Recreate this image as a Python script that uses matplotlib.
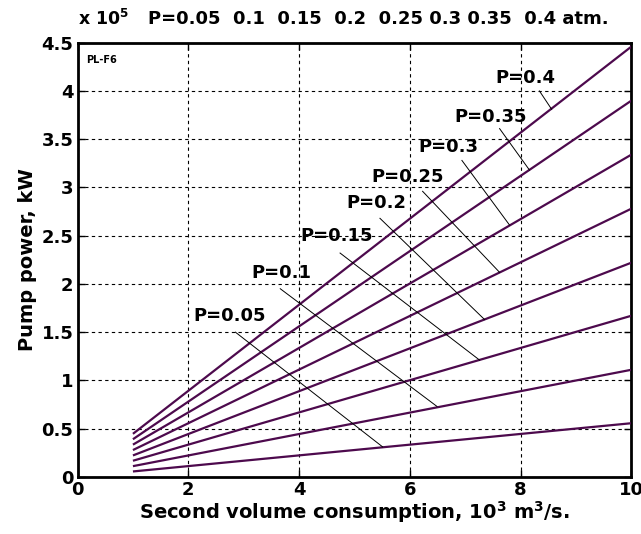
import numpy as np
import matplotlib
matplotlib.use("Agg")
from matplotlib import pyplot as plt

# pressures (atm) and pump power (x 1e5 kW) at Q = 1 and Q = 10 (10^3 m3/s)
pressures = ["0.05", "0.1", "0.15", "0.2", "0.25", "0.3", "0.35", "0.4"]
q_ends = [1, 10]
power_q1 = [0.056, 0.111, 0.167, 0.222, 0.278, 0.334, 0.390, 0.446]
power_q10 = [0.556, 1.11, 1.67, 2.22, 2.78, 3.34, 3.90, 4.46]

# label text anchor and leader line (start -> end on curve), data coords
label_xy = [(2.1, 1.67), (3.13, 2.11), (4.02, 2.50), (4.85, 2.84),
            (5.3, 3.11), (6.15, 3.42), (6.8, 3.73), (7.55, 4.13)]
leader_from = [(2.85, 1.50), (3.66, 1.95), (4.74, 2.32), (5.46, 2.68),
               (6.23, 2.96), (6.94, 3.28), (7.62, 3.61), (8.34, 4.00)]
leader_to = [(5.51, 0.31), (6.49, 0.73), (7.26, 1.21), (7.35, 1.63),
             (7.62, 2.12), (7.80, 2.61), (8.16, 3.18), (8.56, 3.81)]

x_ticks = [0, 2, 4, 6, 8, 10]
y_ticks = [0, 0.5, 1, 1.5, 2, 2.5, 3, 3.5, 4, 4.5]
y_tick_labels = ["0", "0.5", "1", "1.5", "2", "2.5", "3", "3.5", "4", "4.5"]

plt.rcParams['font.family'] = ['DejaVu Sans']
plt.rcParams['font.weight'] = 'bold'

fig = plt.figure(figsize=(6.41, 5.34), dpi=100)
ax = fig.add_axes([0.121, 0.107, 0.864, 0.813])

line_color = '#4d0a4d'
for i in range(len(pressures)):
    ax.plot(q_ends, [power_q1[i], power_q10[i]], color=line_color, lw=1.6,
            solid_capstyle='butt', zorder=3)
    ax.plot([leader_from[i][0], leader_to[i][0]], [leader_from[i][1], leader_to[i][1]],
            color='black', lw=0.7, zorder=4)
    ax.text(label_xy[i][0], label_xy[i][1], "P=" + pressures[i], fontsize=13,
            fontweight='bold', ha='left', va='center', zorder=5)

ax.set_xlim(0, 10)
ax.set_ylim(0, 4.5)
ax.set_xticks(x_ticks)
ax.set_xticklabels([str(t) for t in x_ticks])
ax.set_yticks(y_ticks)
ax.set_yticklabels(y_tick_labels)
ax.grid(True, color='black', linestyle=(0, (3, 3)), linewidth=0.8)
ax.tick_params(direction='in', top=True, right=True, length=5, width=1,
               labelsize=13, pad=3)
for lab in ax.get_xticklabels() + ax.get_yticklabels():
    lab.set_fontweight('bold')
for sp in ax.spines.values():
    sp.set_linewidth(2)

ax.set_xlabel(r"Second volume consumption, 10$^{\mathbf{3}}$ m$^{\mathbf{3}}$/s.",
              fontsize=14, fontweight='bold', labelpad=0)
ax.set_ylabel("Pump power, kW", fontsize=14, fontweight='bold', labelpad=3)

ax.text(0.015, 0.96, "PL-F6", transform=ax.transAxes, fontsize=7,
        fontweight='bold', ha='left', va='center')
fig.text(0.122, 0.964, r"x 10$^{\mathbf{5}}$", fontsize=12.5, fontweight='bold',
         ha='left', va='center')
fig.text(0.231, 0.964, "P=0.05  0.1  0.15  0.2  0.25 0.3 0.35  0.4 atm.",
         fontsize=13, fontweight='bold', ha='left', va='center')

fig.savefig("out.png", dpi=100)
